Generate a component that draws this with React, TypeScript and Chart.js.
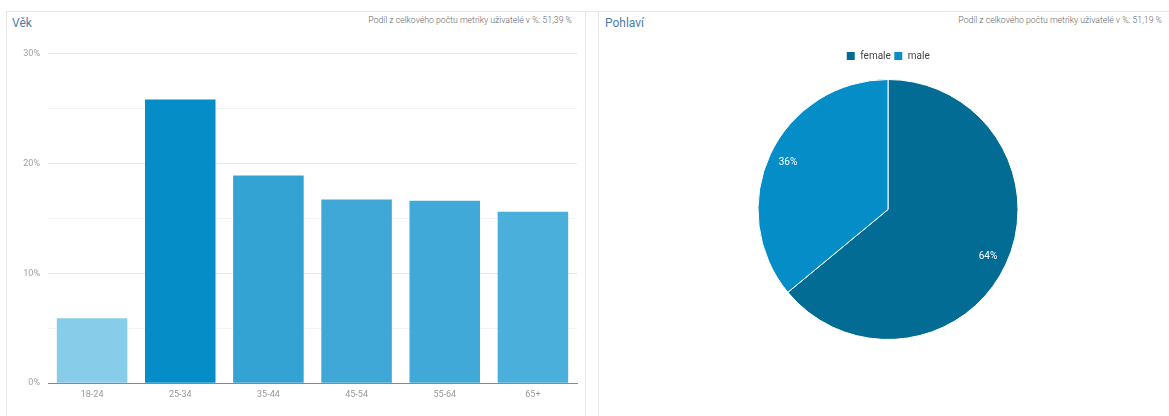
import React, { useEffect, useRef } from "react";
import { Chart, registerables } from "chart.js";

Chart.register(...registerables);

const ageCategories = ["18-24", "25-34", "35-44", "45-54", "55-64", "65+"];
const ageValues = [5.9, 25.8, 18.9, 16.7, 16.6, 15.6];
const ageColors = ["#87cce8", "#058dc7", "#33a3d4", "#3fa8d7", "#41a9d8", "#4aafda"];
const yTickValues = [0, 10, 20, 30];

const genderLabels = ["female", "male"];
const genderValues = [64, 36];
const genderColors = ["#026c94", "#058dc7"];

const leftTitle = "Věk";
const rightTitle = "Pohlaví";
const leftNote = "Podíl z celkového počtu metriky uživatelé v %: 51,39 %";
const rightNote = "Podíl z celkového počtu metriky uživatelé v %: 51,19 %";

const FONT = "Roboto, 'Open Sans', sans-serif";

const pieLabelPlugin = {
  id: "pieLabels",
  afterDatasetsDraw(chart: any) {
    const ctx = chart.ctx;
    const meta = chart.getDatasetMeta(0);
    const data = chart.data.datasets[0].data as number[];
    const total = data.reduce((a, b) => a + b, 0);
    ctx.save();
    ctx.fillStyle = "#ffffff";
    ctx.font = "10px " + FONT;
    ctx.textAlign = "center";
    ctx.textBaseline = "middle";
    meta.data.forEach((arc: any, i: number) => {
      const p = arc.getProps(["x", "y", "startAngle", "endAngle", "outerRadius"], true);
      const mid = (p.startAngle + p.endAngle) / 2;
      const r = p.outerRadius * 0.85;
      const tx = p.x + Math.cos(mid) * r;
      const ty = p.y + Math.sin(mid) * r;
      ctx.fillText(Math.round((data[i] / total) * 100) + "%", tx, ty);
    });
    ctx.restore();
  },
};

const legendGapPlugin = {
  id: "legendGap",
  beforeInit(chart: any) {
    const legend = chart.legend;
    if (!legend) return;
    const orig = legend.fit;
    legend.fit = function () {
      orig.call(this);
      this.height += 8;
    };
  },
};

export default function App() {
  const barRef = useRef<HTMLCanvasElement>(null);
  const pieRef = useRef<HTMLCanvasElement>(null);

  useEffect(() => {
    Chart.defaults.font.family = FONT;
    const bar = new Chart(barRef.current!, {
      type: "bar",
      data: {
        labels: ageCategories,
        datasets: [
          {
            data: ageValues,
            backgroundColor: ageColors,
            borderWidth: 0,
            barPercentage: 0.8,
            categoryPercentage: 1,
          },
        ],
      },
      options: {
        animation: false,
        responsive: false,
        maintainAspectRatio: false,
        layout: { padding: { top: 13, right: 8, bottom: 10, left: 0 } },
        plugins: { legend: { display: false }, tooltip: { enabled: false } },
        scales: {
          x: {
            grid: { display: false, drawTicks: false },
            border: { display: true, color: "#888888", width: 1 },
            ticks: { color: "#999999", font: { size: 9 }, padding: 6 },
          },
          y: {
            min: 0,
            max: 30,
            afterFit: (axis: any) => {
              axis.width = 38;
            },
            ticks: {
              stepSize: 5,
              color: "#a0a0a0",
              font: { size: 9 },
              padding: 8,
              callback: (v: any) => (yTickValues.includes(Number(v)) ? v + "%" : ""),
            },
            grid: {
              drawTicks: false,
              color: (c: any) => (yTickValues.includes(c.tick.value) ? "#e6e6e6" : "#f3f3f3"),
            },
            border: { display: false },
          },
        },
      },
    });

    const pie = new Chart(pieRef.current!, {
      type: "pie",
      data: {
        labels: genderLabels,
        datasets: [
          {
            data: genderValues,
            backgroundColor: genderColors,
            borderColor: "#ffffff",
            borderWidth: 1,
          },
        ],
      },
      options: {
        animation: false,
        responsive: false,
        maintainAspectRatio: false,
        layout: { padding: { top: 9, bottom: 10, left: 9, right: 0 } },
        plugins: {
          tooltip: { enabled: false },
          legend: {
            position: "top",
            labels: {
              boxWidth: 9,
              boxHeight: 9,
              color: "#444444",
              font: { size: 10 },
              padding: 3,
            },
          },
        },
      },
      plugins: [pieLabelPlugin, legendGapPlugin],
    });

    return () => {
      bar.destroy();
      pie.destroy();
    };
  }, []);

  const border = "#e6e6e6";
  return (
    <div style={{ position: "absolute", left: 0, top: 0, width: 1169, height: 416, background: "#fff", fontFamily: FONT, overflow: "hidden" }}>
      <div style={{ position: "absolute", left: 6, top: 11, width: 1163, height: 1, background: border }} />
      <div style={{ position: "absolute", left: 6, top: 11, width: 1, height: 405, background: border }} />
      <div style={{ position: "absolute", left: 585, top: 11, width: 1, height: 405, background: border }} />
      <div style={{ position: "absolute", left: 598, top: 11, width: 1, height: 405, background: border }} />

      <div style={{ position: "absolute", left: 12, top: 16, fontSize: 12, color: "#4d7ea8", lineHeight: "14px" }}>{leftTitle}</div>
      <div style={{ position: "absolute", right: 1169 - 572, top: 14, fontSize: 8.7, fontWeight: 300, color: "#666", lineHeight: "12px", whiteSpace: "nowrap" }}>{leftNote}</div>
      <div style={{ position: "absolute", left: 605, top: 16, fontSize: 12, color: "#4d7ea8", lineHeight: "14px" }}>{rightTitle}</div>
      <div style={{ position: "absolute", right: 1169 - 1162, top: 14, fontSize: 8.7, fontWeight: 300, color: "#666", lineHeight: "12px", whiteSpace: "nowrap" }}>{rightNote}</div>

      <canvas ref={barRef} width={575} height={376} style={{ position: "absolute", left: 10, top: 40, width: 575, height: 376 }} />
      <canvas ref={pieRef} width={571} height={311} style={{ position: "absolute", left: 598, top: 39, width: 571, height: 311 }} />
    </div>
  );
}
